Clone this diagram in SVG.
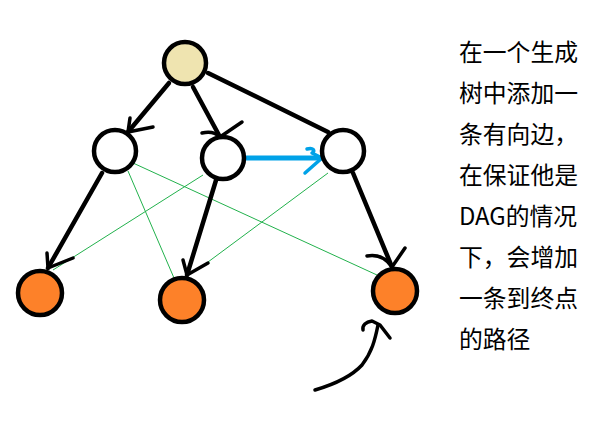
<svg xmlns="http://www.w3.org/2000/svg" width="597" height="436" viewBox="0 0 597 436">
<style>
.node{stroke:#000;stroke-width:4.5}
.white{fill:#fff}
.root{fill:#efe4b0}
.leaf{fill:#fd8129}
.edge{fill:none;stroke:#000;stroke-width:4.5;stroke-linecap:round;stroke-linejoin:round}
.head{fill:none;stroke:#000;stroke-width:3.5;stroke-linecap:round;stroke-linejoin:round}
.blue{fill:none;stroke:#00a2e8;stroke-width:5;stroke-linecap:round;stroke-linejoin:round}
.bluehead{fill:none;stroke:#00a2e8;stroke-width:3.5;stroke-linecap:round;stroke-linejoin:round}
.green{fill:none;stroke:#22b14c;stroke-width:1}
.label{font-family:"Microsoft YaHei","Noto Sans CJK SC",sans-serif;font-size:23.8px;fill:#000}
</style>
<rect width="597" height="436" fill="#fff"/>
<g id="connectors">
  <line class="green" x1="133" y1="163" x2="377" y2="275"/>
  <line class="green" x1="128" y1="171" x2="174" y2="278"/>
  <line class="green" x1="203" y1="175" x2="53" y2="270"/>
  <line class="green" x1="328" y1="173" x2="208" y2="262"/>
  <line class="edge" x1="169" y1="83" x2="128" y2="132"/>
  <path class="head" d="M130 118 L128 132 L153 127"/>
  <line class="edge" x1="193" y1="87" x2="220" y2="137"/>
  <path class="head" d="M202 133 C210 131 216 133 220 137 L242 122"/>
  <line class="edge" x1="208" y1="73" x2="328" y2="132"/>
  <line class="edge" x1="102" y1="173" x2="48" y2="268"/>
  <path class="head" d="M47 253 L48 268 L73 258"/>
  <line class="edge" x1="217" y1="177" x2="187" y2="275"/>
  <path class="head" d="M183 260 L187 275 L208 263"/>
  <line class="edge" x1="353" y1="173" x2="392" y2="267"/>
  <path class="head" d="M367 256 C378 254 386 258 392 267 L405 248"/>
  <line class="blue" x1="245" y1="158" x2="322" y2="158"/>
  <path class="bluehead" d="M307 149 C313 147 316 151 312 153 L322 158 L305 173"/>
  <path class="head" d="M315 390 C332 385 350 378 362 365 C372 352 375 340 378 325"/>
  <path class="head" d="M363 330 C362 325 366 322 372 321 L380 325 L390 338"/>
</g>
<g id="root"><circle class="node root" cx="185" cy="63" r="21"/></g>
<g id="mid-left"><circle class="node white" cx="115" cy="151" r="21"/></g>
<g id="mid-center"><circle class="node white" cx="223" cy="158" r="21"/></g>
<g id="mid-right"><circle class="node white" cx="343" cy="151" r="21"/></g>
<g id="leaf-left"><circle class="node leaf" cx="40" cy="293" r="22"/></g>
<g id="leaf-center"><circle class="node leaf" cx="182" cy="300" r="22"/></g>
<g id="leaf-right"><circle class="node leaf" cx="395" cy="291" r="22"/></g>
<g id="caption" class="label">
  <text x="459" y="61">在一个生成</text>
  <text x="459" y="102">树中添加一</text>
  <text x="459" y="143">条有向边，</text>
  <text x="459" y="184">在保证他是</text>
  <text x="459" y="225">DAG的情况</text>
  <text x="459" y="266">下，会增加</text>
  <text x="459" y="307">一条到终点</text>
  <text x="459" y="348">的路径</text>
</g>
</svg>
